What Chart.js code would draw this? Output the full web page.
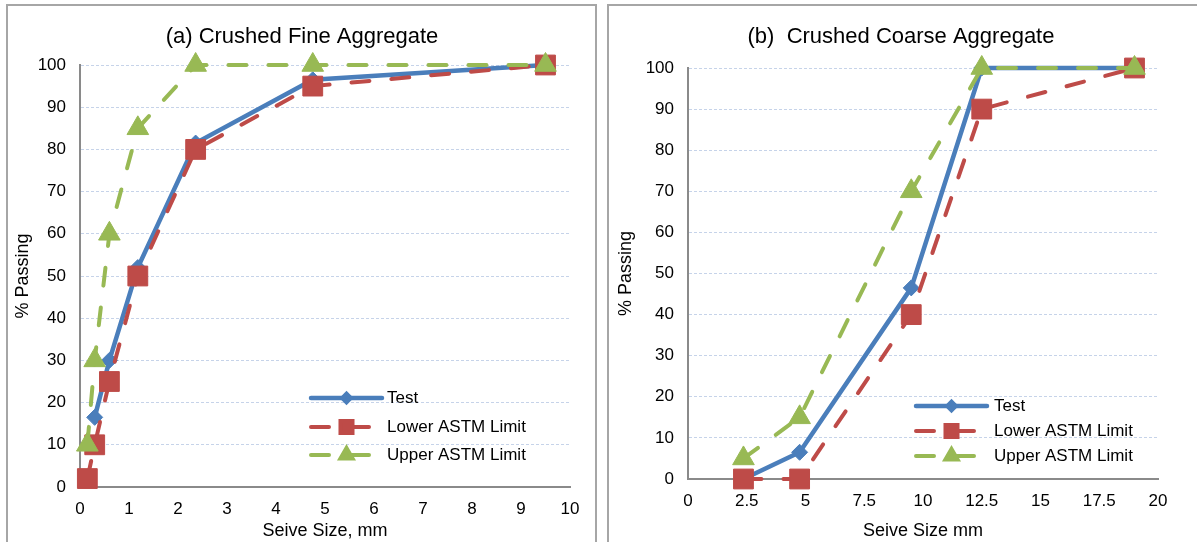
<!DOCTYPE html>
<html>
<head>
<meta charset="utf-8">
<title>Sieve Analysis</title>
<script src="https://cdn.jsdelivr.net/npm/chart.js@4.4.1/dist/chart.umd.min.js"></script>
<style>
  html, body { margin: 0; padding: 0; background: #fff; }
  body { width: 1197px; height: 542px; position: relative; overflow: hidden; }
  .panel { position: absolute; top: 4px; height: 560px; box-sizing: border-box; border: 2px solid #a6a6a6; background: #fff; }
  canvas { position: absolute; }
</style>
</head>
<body>
<div class="panel" style="left:6px; width:591px;"></div>
<div class="panel" style="left:607px; width:600px;"></div>
<canvas id="fine" width="588" height="536" style="left:7px; top:6px;"></canvas>
<canvas id="coarse" width="585" height="536" style="left:609px; top:6px;"></canvas>
<script>
// ---- Fine aggregate gradation (sieve size in mm, % passing) ----
const fineSieveTest = [0.3, 0.6, 1.18, 2.36, 4.75, 9.5];
const fineTest      = [16.5, 30, 52, 81.5, 96.5, 100];
const fineSieve     = [0.15, 0.3, 0.6, 1.18, 2.36, 4.75, 9.5];
const fineLower     = [2, 10, 25, 50, 80, 95, 100];
const fineUpper     = [10, 30, 60, 85, 100, 100, 100];

// ---- Coarse aggregate gradation ----
const coarseSieve   = [2.36, 4.75, 9.5, 12.5, 19];
const coarseTest    = [0, 6.5, 46.5, 100, 100];
const coarseLower   = [0, 0, 40, 90, 100];
const coarseUpper   = [5, 15, 70, 100, 100];

const seriesNames   = ['Test', 'Lower ASTM Limit', 'Upper ASTM Limit'];
const fineXTicks    = [0, 10, 1];     // min, max, step
const coarseXTicks  = [0, 20, 2.5];
const yTicks        = [0, 100, 10];

const BLUE = '#4a7ebb', RED = '#be4b48', GREEN = '#98b954';
const FONT = '"Liberation Sans", Arial, sans-serif';

function pairs(xs, ys) { return xs.map((x, i) => ({ x: x, y: ys[i] })); }

function makeDatasets(testX, testY, limX, lower, upper) {
  return [
    { label: seriesNames[0], data: pairs(testX, testY), borderColor: BLUE, backgroundColor: BLUE,
      borderWidth: 4.5, pointStyle: 'rectRot', pointRadius: 8, pointBorderWidth: 1, order: 3,
      keyRadius: 4 },
    { label: seriesNames[1], data: pairs(limX, lower), borderColor: RED, backgroundColor: RED,
      borderWidth: 4, borderDash: [18, 22], borderCapStyle: 'round', pointStyle: 'rect', pointRadius: 14,
      pointBorderWidth: 1, order: 2, keyRadius: 8.5 },
    { label: seriesNames[2], data: pairs(limX, upper), borderColor: GREEN, backgroundColor: GREEN,
      borderWidth: 4, borderDash: [18, 22], borderCapStyle: 'round', pointStyle: 'triangle', pointRadius: 12.5,
      pointBorderWidth: 1, order: 1, keyRadius: 7 }
  ];
}

// Series key drawn inside the plot: line sample with its marker, then the name.
const seriesKey = {
  id: 'seriesKey',
  afterDraw(chart, args, opts) {
    const ctx = chart.ctx;
    chart.data.datasets.forEach((ds, i) => {
      const y = opts.rows[i];
      ctx.save();
      ctx.strokeStyle = ds.borderColor;
      ctx.lineWidth = ds.borderWidth;
      ctx.lineCap = 'round';
      ctx.setLineDash(ds.borderDash || []);
      ctx.beginPath();
      ctx.moveTo(opts.x0, y);
      ctx.lineTo(opts.x1, y);
      ctx.stroke();
      ctx.setLineDash([]);
      ctx.fillStyle = ds.backgroundColor;
      ctx.strokeStyle = ds.borderColor;
      Chart.helpers.drawPoint(ctx, { pointStyle: ds.pointStyle, radius: ds.keyRadius, rotation: 0, borderWidth: 1 },
        (opts.x0 + opts.x1) / 2, y);
      ctx.fillStyle = '#000';
      ctx.font = '17px ' + FONT;
      ctx.textBaseline = 'middle';
      ctx.textAlign = 'left';
      ctx.fillText(ds.label, opts.textX, y);
      ctx.restore();
    });
  }
};

function makeChart(id, cfg) {
  return new Chart(document.getElementById(id), {
    type: 'line',
    data: { datasets: cfg.datasets.map(d => Object.assign({ clip: false, tension: 0, fill: false }, d)) },
    plugins: [seriesKey],
    options: {
      responsive: false,
      animation: false,
      devicePixelRatio: 1,
      events: [],
      layout: { padding: { left: cfg.padLeft, right: cfg.padRight, top: 0, bottom: 0 } },
      plugins: {
        legend: { display: false },
        tooltip: { enabled: false },
        title: {
          display: true, text: cfg.title, color: '#000',
          font: { family: FONT, size: 22, weight: 'normal', lineHeight: 1.2 },
          padding: { top: 18, bottom: cfg.titleGap }
        },
        seriesKey: cfg.key
      },
      scales: {
        x: {
          type: 'linear', min: cfg.xTicks[0], max: cfg.xTicks[1],
          afterFit: s => { s.height = cfg.xHeight; },
          ticks: { stepSize: cfg.xTicks[2], color: '#000', font: { family: FONT, size: 17 }, padding: 12, maxRotation: 0, autoSkip: false },
          grid: { display: false, drawTicks: false },
          border: { display: true, color: '#8a8a8a', width: 2 },
          title: { display: true, text: cfg.xTitle, color: '#000', font: { family: FONT, size: 18 }, padding: { top: 0, bottom: 0 } }
        },
        y: {
          type: 'linear', min: yTicks[0], max: yTicks[1],
          afterFit: s => { s.width = cfg.yWidth; },
          ticks: { stepSize: yTicks[2], color: '#000', font: { family: FONT, size: 17 }, padding: 14 },
          grid: {
            drawTicks: false, lineWidth: 1,
            color: c => (c.tick && c.tick.value === 0) ? 'rgba(0,0,0,0)' : '#c6d3e9'
          },
          border: { display: true, color: '#8a8a8a', width: 2, dash: [3, 2] },
          title: { display: true, text: '% Passing', color: '#000', font: { family: FONT, size: 18 }, padding: { top: cfg.yTitlePad, bottom: 0 } }
        }
      }
    }
  });
}

makeChart('fine', {
  title: '(a) Crushed Fine Aggregate',
  xTitle: 'Seive Size, mm',
  xTicks: fineXTicks,
  datasets: makeDatasets(fineSieveTest, fineTest, fineSieve, fineLower, fineUpper),
  padLeft: 27, padRight: 25, yWidth: 46, xHeight: 55, titleGap: 14.6,
  yTitlePad: -21.8,
  key: { x0: 304, x1: 375, textX: 380, rows: [392, 421, 449] }
});

makeChart('coarse', {
  title: '(b)  Crushed Coarse Aggregate',
  xTitle: 'Seive Size mm',
  xTicks: coarseXTicks,
  datasets: makeDatasets(coarseSieve, coarseTest, coarseSieve, coarseLower, coarseUpper),
  padLeft: 35, padRight: 36, yWidth: 44, xHeight: 63, titleGap: 17.6,
  yTitlePad: -28.8,
  key: { x0: 307, x1: 378, textX: 385, rows: [400, 425, 450] }
});
</script>
</body>
</html>
